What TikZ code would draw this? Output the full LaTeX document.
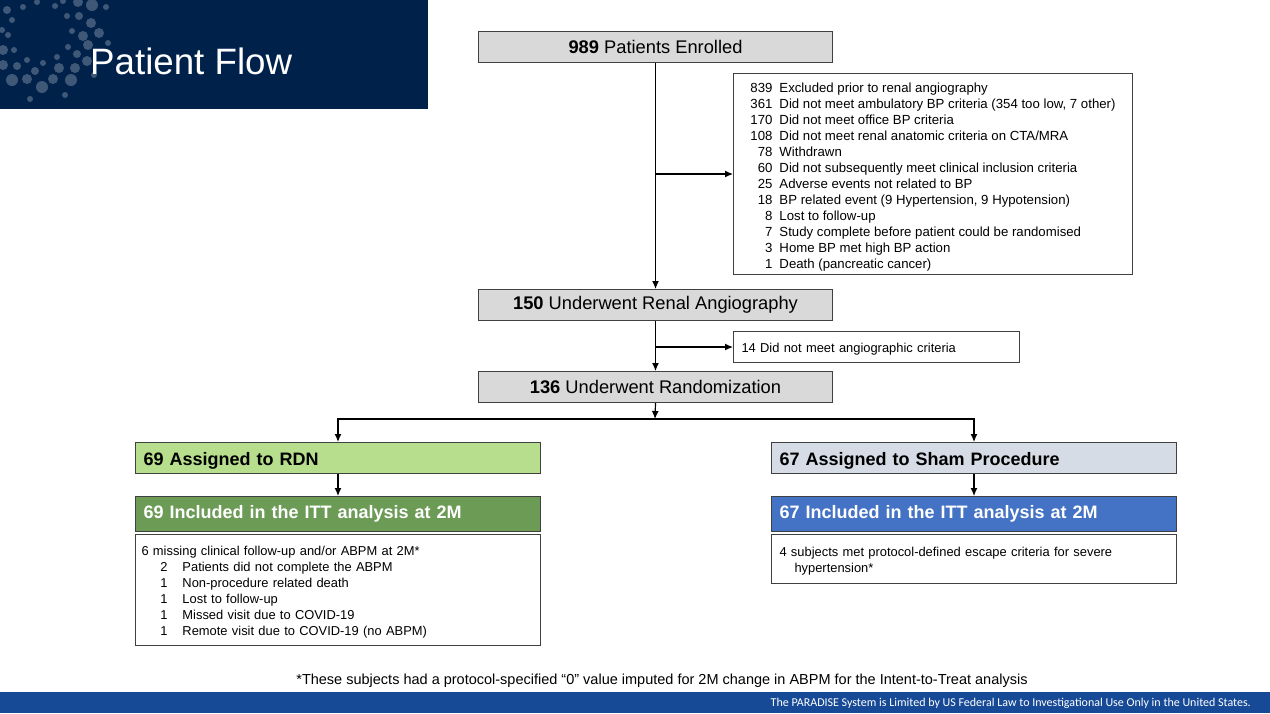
\documentclass[tikz,border=0pt]{standalone}
\usepackage{fontspec}
\setmainfont{Liberation Sans}
\newfontfamily\footfont{Carlito}
\usepackage{tikz}
\usetikzlibrary{positioning,arrows.meta}
\definecolor{navy}{HTML}{00214A}
\definecolor{footblue}{HTML}{174A96}
\definecolor{boxgray}{HTML}{D9D9D9}
\definecolor{rdnlight}{HTML}{B6DE8C}
\definecolor{rdndark}{HTML}{6B9B55}
\definecolor{shamlight}{HTML}{D6DCE5}
\definecolor{shamdark}{HTML}{4472C4}
\newcommand{\fsz}[2]{\fontsize{#1}{#2}\selectfont}
\newcommand{\itm}[2]{\hspace*{19pt}\makebox[7pt][r]{#1}\hspace{15pt}#2}
\newcommand{\lift}[1]{\rule{0pt}{#1}}

\begin{document}
\begin{tikzpicture}[x=1pt,y=-1pt,
		stage/.style={draw=black!75,line width=1pt,fill=boxgray,minimum width=354pt,minimum height=31pt,inner sep=0pt,anchor=north west,font=\fsz{18.3}{22}},
		note/.style={draw=black!75,line width=1pt,fill=white,inner sep=0pt,anchor=north west,font=\fsz{12.9}{16}},
		arm/.style={draw=black!75,line width=1pt,minimum width=405pt,minimum height=31pt,text width=389pt,inner xsep=8pt,inner ysep=0pt,align=left,anchor=north west,font=\bfseries\fsz{18}{21}},
		arr/.style={-{Latex[length=8pt,width=7pt]},line width=1.2pt}]
		\useasboundingbox (0,0) rectangle (1270,713);

		\fill[navy] (0,0) rectangle (428,109);
		\begin{scope}
			\clip (0,0) rectangle (428,109);
			\foreach \x/\y/\r in {7/10/4,23/7/3,37/2/3,55/6/3,63/1/3,78/2/5,92/5/6,106/7/3,67/16/3,79/16/4,91/23/5,12/20/3,2/30/3,8/35/3,72/31/3,83/36/5,99/33/5,108/43/3,68/47/3,77/54/4,88/45/5,3/50/5,14/50/3,43/63/3,27/60/3,57/57/3,3/65/5,17/66/4,35/71/4,59/68/5,75/68/5,87/61/5,12/80/6,27/79/5,42/87/6,53/79/5,71/80/6,94/75/3,65/95/3,30/99/3}
				\fill[white,opacity=.25] (\x,\y) circle[radius=\r];
		\end{scope}
		\node[anchor=base west,inner sep=0pt,text=white,font=\fsz{36.7}{40}] (title) at (90,74) {Patient Flow};

		\node[stage] (enrolled) at (478,31) {\textbf{989} Patients Enrolled};
		\node[note,minimum width=399pt,minimum height=201pt,font=\fsz{13.2}{16}] (excl) at (733,73) {%
			\begin{tabular}{@{}r@{\hspace{7pt}}l@{}}
				\noalign{\vskip6pt}
				839 & Excluded prior to renal angiography\\
				361 & Did not meet ambulatory BP criteria (354 too low, 7 other)\\
				170 & Did not meet office BP criteria\\
				108 & Did not meet renal anatomic criteria on CTA/MRA\\
				78 & Withdrawn\\
				60 & Did not subsequently meet clinical inclusion criteria\\
				25 & Adverse events not related to BP\\
				18 & BP related event (9 Hypertension, 9 Hypotension)\\
				8 & Lost to follow-up\\
				7 & Study complete before patient could be randomised\\
				3 & Home BP met high BP action\\
				1 & Death (pancreatic cancer)
			\end{tabular}};
		\node[stage] (angio) at (478,289) {\textbf{150} Underwent Renal Angiography};
		\node[note,minimum width=286pt,minimum height=31pt,text width=270pt,inner xsep=8pt,align=left] (angionot) at (733,331) {\lift{13pt}14 Did not meet angiographic criteria};
		\node[stage] (random) at (478,371) {\textbf{136} Underwent Randomization};
		\coordinate (fork) at (655,419);

		\node[arm,fill=rdnlight] (rdn) at (135,442) {\lift{19pt}69 Assigned to RDN};
		\node[arm,fill=rdndark,text=white,minimum height=35pt] (rdnitt) at (135,496) {69 Included in the ITT analysis at 2M};
		\node[note,minimum width=405pt,minimum height=111pt,text width=393pt,inner xsep=6pt,align=left] (rdnmiss) at (135,534) {\lift{13.3pt}6 missing clinical follow-up and/or ABPM at 2M*\\
			\itm{2}{Patients did not complete the ABPM}\\
			\itm{1}{Non-procedure related death}\\
			\itm{1}{Lost to follow-up}\\
			\itm{1}{Missed visit due to COVID-19}\\
			\itm{1}{Remote visit due to COVID-19 (no ABPM)}};

		\node[arm,fill=shamlight] (sham) at (771,442) {\lift{19pt}67 Assigned to Sham Procedure};
		\node[arm,fill=shamdark,text=white,minimum height=35pt] (shamitt) at (771,496) {67 Included in the ITT analysis at 2M};
		\node[note,minimum width=405pt,minimum height=49pt,text width=389pt,inner xsep=8pt,align=left] (shamesc) at (771,534) {\lift{13.3pt}4 subjects met protocol-defined escape criteria for severe\\\hspace*{15pt}hypertension*};

		\draw[arr] (enrolled.south) -- (angio.north);
		\draw[arr] (enrolled.south |- excl.west) -- (excl.west);
		\draw[arr] (angio.south) -- (random.north);
		\draw[arr] (angio.south |- angionot.west) -- (angionot.west);
		\draw[arr] (random.south) -- (fork);
		\draw[arr] (fork) -| (rdn.north);
		\draw[arr] (fork) -| (sham.north);
		\draw[arr] (rdn.south) -- (rdnitt.north);
		\draw[arr] (sham.south) -- (shamitt.north);

		\node[anchor=base,inner sep=0pt,font=\fsz{14.5}{17}] (footnote) at (662,684) {*These subjects had a protocol-specified “0” value imputed for 2M change in ABPM for the Intent-to-Treat analysis};
		\fill[footblue] (0,692) rectangle (1270,713);
		\node[anchor=base east,inner sep=0pt,text=white,font=\footfont\fsz{12}{14}] (disclaimer) at (1251,706) {The PARADISE System is Limited by US Federal Law to Investigational Use Only in the United States.};
	\end{tikzpicture}
\end{document}
